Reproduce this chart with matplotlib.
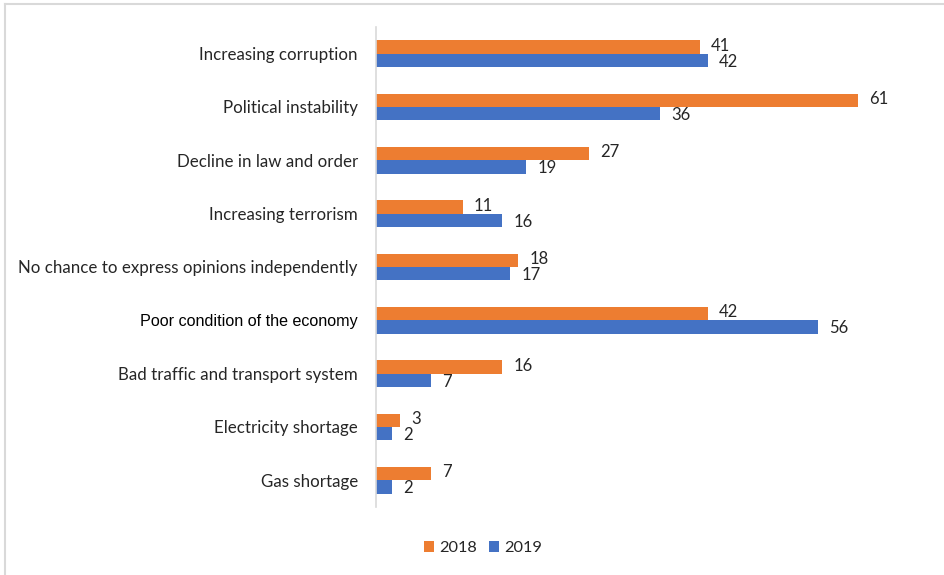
import numpy as np
import matplotlib
matplotlib.use('Agg')
import matplotlib.pyplot as plt
from matplotlib.lines import Line2D

categories = ['Increasing corruption', 'Political instability', 'Decline in law and order',
              'Increasing terrorism', 'No chance to express opinions independently',
              'Poor condition of the economy', 'Bad traffic and transport system',
              'Electricity shortage', 'Gas shortage']
vals_2018 = [41, 61, 27, 11, 18, 42, 16, 3, 7]
vals_2019 = [42, 36, 19, 16, 17, 56, 7, 2, 2]
series_names = ['2018', '2019']

orange = '#ED7D31'
blue = '#4472C4'
txt = '#262626'

fig = plt.figure(figsize=(9.45, 5.75), dpi=100)
ax = fig.add_axes([376/945, 1 - 507/575, (945 - 376 - 20)/945, 480/575])

y = np.arange(len(categories))
h = 0.25
ax.barh(y - h/2, vals_2018, height=h, color=orange, label=series_names[0])
ax.barh(y + h/2, vals_2019, height=h, color=blue, label=series_names[1])

for yi, v in zip(y, vals_2018):
    ax.annotate(str(v), (v, yi - h/2), xytext=(8, 1), textcoords='offset points',
                va='center', ha='left', fontsize=12, color=txt, family='Lato')
for yi, v in zip(y, vals_2019):
    ax.annotate(str(v), (v, yi + h/2), xytext=(8, -1), textcoords='offset points',
                va='center', ha='left', fontsize=12, color=txt, family='Lato')

ax.set_ylim(len(categories) - 0.5, -0.5)
ax.set_xlim(0, (945 - 376 - 20) / 7.9)
ax.set_yticks(y)
ax.set_yticklabels(categories, fontsize=12.2, color=txt, family='Lato')
for lab in ax.get_yticklabels():
    if lab.get_text() == 'Poor condition of the economy':
        lab.set_family('Liberation Sans')
        lab.set_fontsize(11.6)
        lab.set_color('black')
ax.tick_params(axis='y', length=0, pad=13)
ax.set_xticks([])
for s in ['top', 'right', 'bottom']:
    ax.spines[s].set_visible(False)
ax.spines['left'].set_color('#D9D9D9')
ax.spines['left'].set_linewidth(1.2)

leg = fig.legend(loc='center', bbox_to_anchor=(483/945, 1 - 548/575), ncol=2, frameon=False,
                 handlelength=0.6, handleheight=0.7, handletextpad=0.35, columnspacing=0.7,
                 prop={'family': 'Lato', 'size': 11.8})
for t in leg.get_texts():
    t.set_color(txt)

# light frame along the top and left edges
fig.add_artist(Line2D([5.5/945, 5.5/945], [0, 1 - 4/575], color='#D9D9D9', lw=1.5, transform=fig.transFigure))
fig.add_artist(Line2D([5.5/945, 1], [1 - 4/575, 1 - 4/575], color='#D9D9D9', lw=1.5, transform=fig.transFigure))

fig.savefig('out.png', dpi=100)
